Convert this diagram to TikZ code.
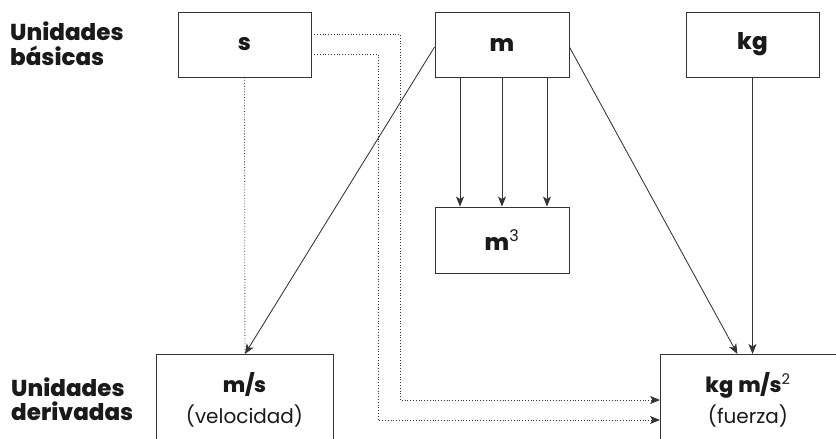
\documentclass[tikz,border=0pt]{standalone}
\usepackage{fontspec}
\setmainfont{Poppins}[BoldFont={Poppins ExtraBold}]
\usetikzlibrary{arrows.meta}
\definecolor{ln}{HTML}{333333}
\definecolor{tx}{HTML}{1A1A1A}
\tikzset{
  box/.style={draw=ln, line width=0.9pt, fill=white, inner sep=0pt},
  conn/.style={draw=ln, line width=0.85pt, -{Stealth[length=10pt,width=8pt,inset=2.5pt]}},
  dotline/.style={draw=ln, line width=0.85pt, dash pattern=on 0.8pt off 2pt},
  dotarrow/.style={dotline, -{Stealth[length=10pt,width=8pt,inset=2.5pt,sep=0pt]}},
  sidelabel/.style={text=tx, font=\fontsize{23}{24.5}\selectfont\bfseries, align=left, inner sep=0pt},
  toptext/.style={text=tx, font=\fontsize{23}{24}\selectfont\bfseries, inner sep=0pt},
  boxtext/.style={text=tx, font=\fontsize{20}{23}\selectfont, inner sep=0pt},
  boxbold/.style={text=tx, font=\fontsize{21}{23}\selectfont\bfseries, inner sep=0pt},
}
\begin{document}
\begin{tikzpicture}[x=1pt,y=-1pt]
\useasboundingbox (0,0) rectangle (836,439);
\clip (0,0) rectangle (836,439);
% top boxes
\node[box, minimum width=133pt, minimum height=65pt] (s) at (244.5,44.5) {};
\node[toptext] (st) at (s.center) {s};
\node[box, minimum width=134pt, minimum height=65pt] (m) at (502,44.5) {};
\node[toptext] (mt) at (m.center) {m};
\node[box, minimum width=133pt, minimum height=65pt] (kg) at (752.5,44.5) {};
\node[toptext] (kgt) at (kg.center) {kg};
% middle box
\node[box, minimum width=134pt, minimum height=66pt] (m3) at (502,240) {};
\node[toptext] (m3t) at (m3.center) {m\textsuperscript{\mdseries 3}};
% bottom boxes
\node[box, anchor=north west, minimum width=177pt, minimum height=110pt] (ms) at (156,354) {};
\node[boxbold, anchor=base] (mst) at (244.5,392) {m/s};
\node[boxtext, anchor=base] (msv) at (244.5,423) {(velocidad)};
\node[box, anchor=north west, minimum width=180pt, minimum height=110pt] (kgms) at (660,354) {};
\node[boxbold, anchor=base] (kgmst) at (748,392) {kg\hspace{5pt}m/s\textsuperscript{\mdseries 2}};
\node[boxtext, anchor=base] (kgmsv) at (748,423) {(fuerza)};
% side labels
\node[sidelabel, anchor=base west] (lb) at (10,65) {Unidades\\básicas};
\node[sidelabel, anchor=base west] (ld) at (11,420.5) {Unidades\\derivadas};
% dotted connectors
\draw[dotline] (s.south) -- (ms.north);
\draw[dotarrow] ([yshift=10.5pt]s.east) -| (400,400) -- ([yshift=-46pt]kgms.north west);
\draw[dotarrow] ([yshift=-9.5pt]s.east) -| (378,420) -- ([yshift=-66pt]kgms.north west);
% solid connectors
\draw[conn] ([yshift=-2.5pt]m.west) -- (ms.north);
\draw[conn] ([yshift=-2.5pt]m.east) -- ([xshift=-13pt]kgms.north);
\draw[conn] (kg.south) -- (kg.south |- kgms.north);
\draw[conn] ([xshift=-42pt]m.south) -- ([xshift=-42pt]m3.north);
\draw[conn] (m.south) -- (m3.north);
\draw[conn] ([xshift=45pt]m.south) -- ([xshift=45pt]m3.north);
\end{tikzpicture}
\end{document}
